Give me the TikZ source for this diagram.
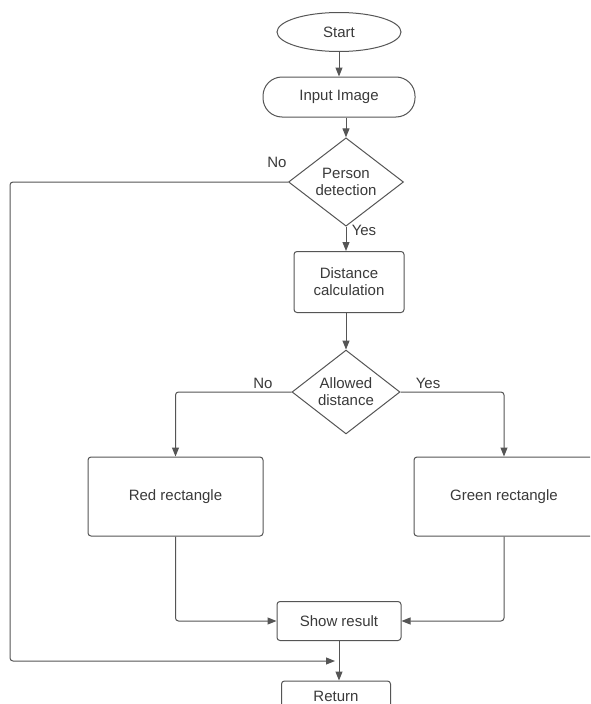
\documentclass[tikz,border=0pt]{standalone}
\usepackage{fontspec}
\setmainfont{Liberation Sans}
\usetikzlibrary{arrows.meta,shapes.geometric}
\definecolor{ln}{HTML}{555555}
\definecolor{tx}{HTML}{3A3A3A}
\begin{document}
\begin{tikzpicture}[x=1pt,y=-1pt,
  base/.style={draw=ln,line width=1pt,text=tx,font=\fontsize{15}{17}\selectfont,align=center,inner sep=0pt},
  term/.style={base,ellipse,minimum width=124pt,minimum height=39pt},
  stad/.style={base,rectangle,rounded corners=19pt,minimum width=152pt,minimum height=40pt},
  proc/.style={base,rectangle,rounded corners=3pt},
  conn/.style={draw=ln,line width=1pt,rounded corners=3pt,-{Triangle[length=9pt,width=7pt]}},
  lbl/.style={text=tx,font=\fontsize{15}{17}\selectfont,inner sep=0pt}]
\useasboundingbox (0,0) rectangle (590,704);
\fill[white] (0,0) rectangle (590,704);
\clip (0,0) rectangle (590,704);
\node[term] (start) at (339,32) {Start};
\node[stad] (input) at (339,97) {Input Image};
\node[base,diamond,minimum width=115pt,minimum height=78pt] (person) at (346,182) {Person\\detection};
\node[proc,minimum width=110pt,minimum height=61pt] (dist) at (349,282) {Distance\\calculation};
\node[base,diamond,minimum width=108pt,minimum height=75pt] (allowed) at (346,392) {Allowed\\distance};
\node[proc,minimum width=175pt,minimum height=79pt] (red) at (175.5,496.5) {Red rectangle};
\node[proc,minimum width=180pt,minimum height=79pt] (green) at (504,496.5) {Green rectangle};
\node[proc,minimum width=124pt,minimum height=39pt] (show) at (339,621) {Show result};
\node[proc,minimum width=109pt,minimum height=30pt] (ret) at (336,696) {Return};
\coordinate (far) at (10,661);
\coordinate (join) at (339,661);
% connectors
\draw[conn] (start) -- (input);
\draw[conn] (input.south -| person.north) -- (person.north);
\draw[conn] (person.south) -- (person.south |- dist.north);
\draw[conn] (dist.south -| allowed.north) -- (allowed.north);
\draw[conn] (allowed.west) -| (red.north);
\draw[conn] (allowed.east) -| (green.north);
\draw[conn] (red.south) |- (show.west);
\draw[conn] (green.south) |- (show.east);
\draw[conn] (show.south) -- (show.south |- ret.north);
\draw[conn,shorten >=4pt] (person.west) -| (far) -- (join);
% labels
\node[lbl] (pno) at (277,162) {No};
\node[lbl] (pyes) at (364,230) {Yes};
\node[lbl] (ano) at (263,383) {No};
\node[lbl] (ayes) at (428,383) {Yes};
\end{tikzpicture}
\end{document}
